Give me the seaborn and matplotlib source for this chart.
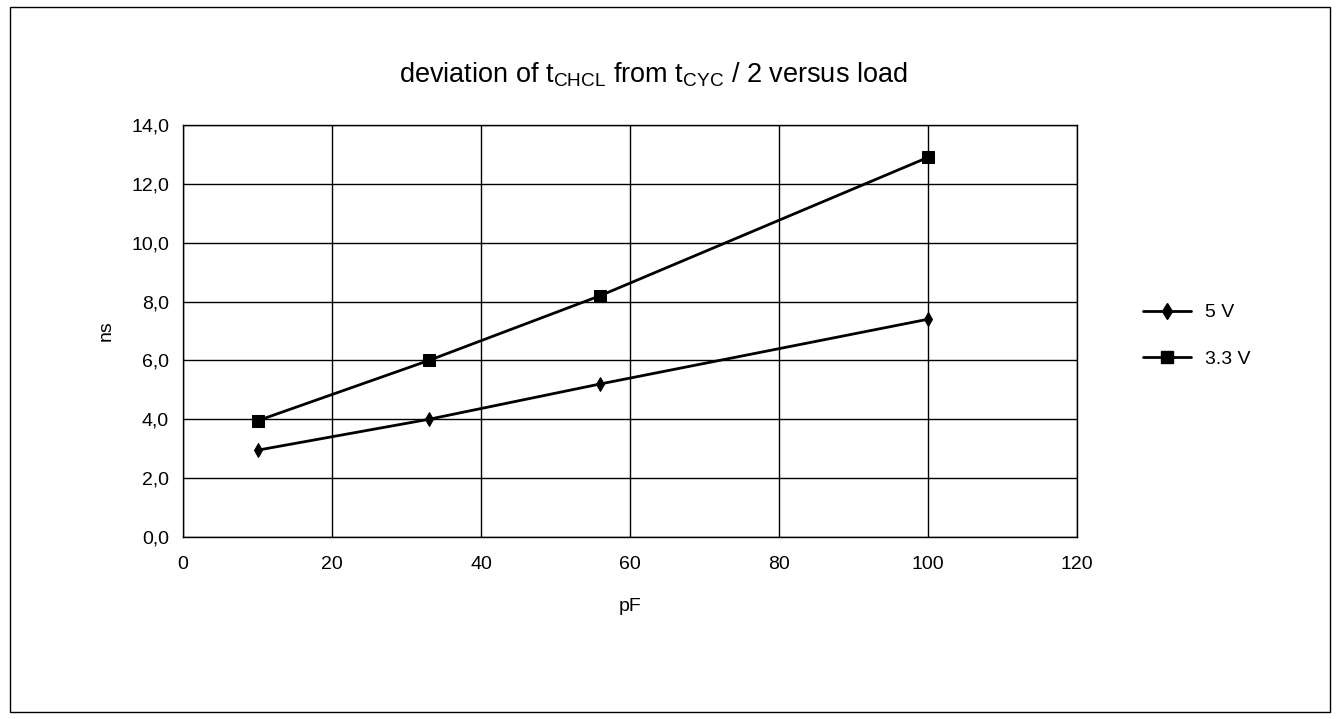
import numpy as np
import pandas as pd
import matplotlib
matplotlib.use("Agg")
import matplotlib.pyplot as plt
import seaborn as sns
from matplotlib.ticker import FuncFormatter
from matplotlib.patches import Rectangle
from matplotlib.lines import Line2D

# data
load_pf = [10, 33, 56, 100]
ns_5v = [2.95, 4.0, 5.2, 7.4]
ns_33v = [3.95, 6.0, 8.2, 12.9]
series_names = ["5 V", "3.3 V"]

df = pd.DataFrame({
    "pF": load_pf * 2,
    "ns": ns_5v + ns_33v,
    "series": [series_names[0]] * len(load_pf) + [series_names[1]] * len(load_pf),
})

sns.set_style("white")
plt.rcParams["font.family"] = ["Liberation Sans", "DejaVu Sans"]
plt.rcParams["mathtext.fontset"] = "custom"
plt.rcParams["mathtext.rm"] = "Liberation Sans"
plt.rcParams["text.color"] = "black"
plt.rcParams["axes.labelcolor"] = "black"

fig = plt.figure(figsize=(13.4, 7.19), dpi=100)
ax = fig.add_axes([183 / 1340, 1 - 537 / 719, (1077 - 183) / 1340, (537 - 125) / 719])

sns.lineplot(data=df, x="pF", y="ns", style="series",
             markers={"5 V": "D", "3.3 V": "s"}, dashes=False,
             color="black", linewidth=2, markersize=9, markeredgecolor="black",
             ax=ax, legend=False)
# thin diamonds like the original
for line in ax.lines:
    if line.get_marker() == "D":
        line.set_marker("d")
        line.set_markersize(7)

ax.set_xlim(0, 120)
ax.set_ylim(0, 14)
ax.set_xticks(range(0, 121, 20))
ax.set_yticks(np.arange(0, 14.1, 2))
ax.yaxis.set_major_formatter(FuncFormatter(lambda v, p: f"{v:.1f}".replace(".", ",")))
ax.grid(True, color="black", linewidth=1)
for s in ax.spines.values():
    s.set_color("black")
    s.set_linewidth(1)
ax.tick_params(labelsize=14, colors="black", length=0)
ax.tick_params(axis="x", pad=14)
ax.tick_params(axis="y", pad=10)

ax.set_xlabel("pF", fontsize=14, labelpad=18)
ax.set_ylabel("ns", fontsize=14, labelpad=12)

fig.text(653 / 1340, 1 - 75 / 719,
         r"deviation of t$_{\mathrm{CHCL}}$ from t$_{\mathrm{CYC}}$ / 2 versus load",
         ha="center", va="center", fontsize=19.5, color="black")

handles = [
    Line2D([], [], color="black", lw=2, marker="d", markersize=8),
    Line2D([], [], color="black", lw=2, marker="s", markersize=9),
]
fig.legend(handles, series_names, loc="center left", bbox_to_anchor=(1125 / 1340, 1 - 336 / 719),
           frameon=False, fontsize=14, handlelength=2.5, handletextpad=0.7, labelspacing=1.5)

fig.add_artist(Rectangle((10 / 1340, 7 / 719), 1320 / 1340, 705 / 719,
                         transform=fig.transFigure, fill=False, edgecolor="black", lw=1))

fig.savefig("out.png", dpi=100)
